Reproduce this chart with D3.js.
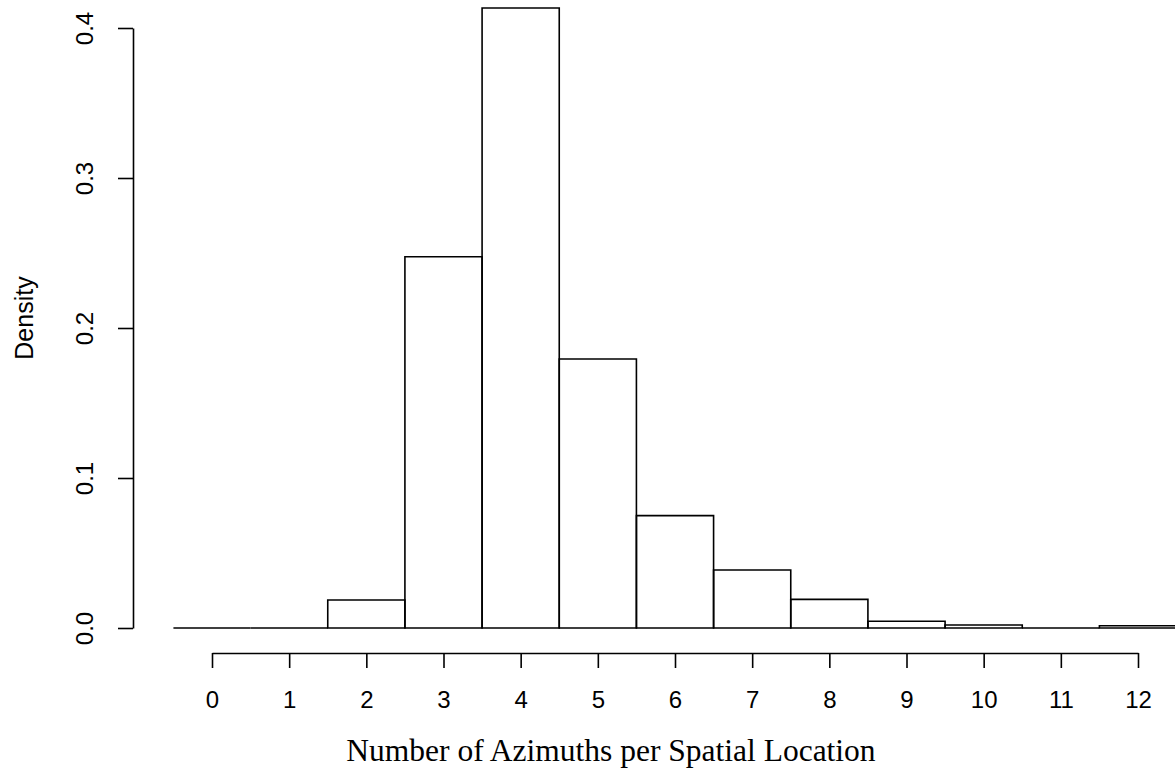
<!DOCTYPE html>
<html>
<head>
<meta charset="utf-8">
<script src="https://cdn.jsdelivr.net/npm/d3@7"></script>
<style>
  body { margin: 0; background: #fff; }
  svg { display: block; }
  .tick text { font-family: "Liberation Sans", Arial, sans-serif; font-size: 24px; fill: #000; }
</style>
</head>
<body>
<svg id="chart" width="1175" height="770"></svg>
<script>
// azimuth counts (bin centres) and density
const counts = [0, 1, 2, 3, 4, 5, 6, 7, 8, 9, 10, 11, 12];
const density = [0, 0, 0.0187, 0.2475, 0.4133, 0.1793, 0.0749, 0.0387, 0.0191, 0.0045, 0.002, 0, 0.0015];
const xTicks = [0, 1, 2, 3, 4, 5, 6, 7, 8, 9, 10, 11, 12];
const yTicks = [0, 0.1, 0.2, 0.3, 0.4];

const svg = d3.select('#chart');

const x = d3.scaleLinear().domain([0, 12]).range([212, 1138]);
const y = d3.scaleLinear().domain([0, 0.4]).range([628, 28]);

// paths instead of rects so empty bins still show as a line on the baseline
svg
  .append('g')
  .selectAll('path')
  .data(counts)
  .enter()
  .append('path')
  .attr('d', (d, i) => {
    const x0 = x(d - 0.5), x1 = x(d + 0.5), y0 = y(0), y1 = y(density[i]);
    return `M${x0},${y0}V${y1}H${x1}V${y0}Z`;
  })
  .attr('fill', 'none')
  .attr('stroke', '#000')
  .attr('stroke-width', 1.6);

const xAxis = svg
  .append('g')
  .attr('transform', 'translate(0,653)')
  .call(
    d3
      .axisBottom(x)
      .tickValues(xTicks)
      .tickSize(15)
      .tickSizeOuter(0)
      .tickPadding(23)
      .tickFormat(d3.format('d')),
  );

const yAxis = svg
  .append('g')
  .attr('transform', 'translate(133,0)')
  .call(
    d3
      .axisLeft(y)
      .tickValues(yTicks)
      .tickSize(15)
      .tickSizeOuter(0)
      .tickFormat(d3.format('.1f')),
  );

yAxis
  .selectAll('.tick text')
  .attr('x', null)
  .attr('dy', null)
  .attr('text-anchor', 'middle')
  .attr('transform', 'translate(-40,0) rotate(-90)');

[xAxis, yAxis].forEach(a => {
  a.selectAll('path, line').attr('stroke', '#000').attr('stroke-width', 1.6);
});

svg
  .append('text')
  .attr('transform', 'translate(33,318) rotate(-90)')
  .attr('text-anchor', 'middle')
  .style('font-family', '"Liberation Sans", Arial, sans-serif')
  .style('font-size', '25px')
  .text('Density');

svg
  .append('text')
  .attr('x', 611)
  .attr('y', 761)
  .attr('text-anchor', 'middle')
  .style('font-family', '"Liberation Serif", "Times New Roman", serif')
  .style('font-size', '31.5px')
  .text('Number of Azimuths per Spatial Location');
</script>
</body>
</html>
